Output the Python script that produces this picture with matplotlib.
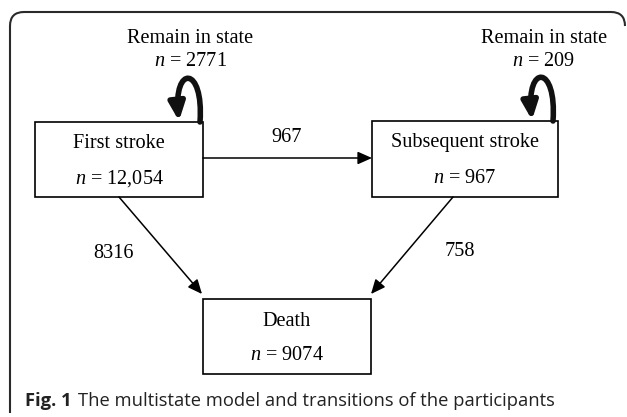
import matplotlib
matplotlib.use("Agg")
import matplotlib.pyplot as plt
from matplotlib.patches import Rectangle, FancyArrowPatch, PathPatch
from matplotlib.path import Path

plt.rcParams["mathtext.fontset"] = "custom"
plt.rcParams["mathtext.it"] = "Liberation Serif:italic"
plt.rcParams["mathtext.rm"] = "Liberation Serif"

# states and counts
states = ["First stroke", "Subsequent stroke", "Death"]
state_n = ["12,054", "967", "9074"]
remain_n = ["2771", "209"]
# transitions: first->subsequent, first->death, subsequent->death
trans_n = ["967", "8316", "758"]

# box geometry in pixels (x0, y0, x1, y1)
boxes = [(35, 122, 203, 197), (372, 121, 558, 197), (203, 299, 371, 374)]

fig = plt.figure(figsize=(6.27, 4.17), dpi=100)
ax = fig.add_axes([0, 0, 1, 1])
ax.set_xlim(0, 627)
ax.set_ylim(417, 0)
ax.axis("off")

serif = "Liberation Serif"
fs = 14.6

# outer rounded frame (open at bottom)
r = 14
frame = Path([(10, 413), (10, 12 + r), (10, 12), (10 + r, 12),
              (625 - r, 12), (625, 12), (625, 12 + r)],
             [Path.MOVETO, Path.LINETO, Path.CURVE3, Path.CURVE3,
              Path.LINETO, Path.CURVE3, Path.CURVE3])
ax.add_patch(PathPatch(frame, fill=False, lw=1.5, ec="#2a2a2a"))

for (x0, y0, x1, y1), name, n in zip(boxes, states, state_n):
    ax.add_patch(Rectangle((x0, y0), x1 - x0, y1 - y0, fill=False, lw=1.2, ec="black"))
    cx = (x0 + x1) / 2
    ax.text(cx, y0 + 22, name, ha="center", va="center", fontsize=fs, family=serif)
    ax.text(cx, y0 + 57, r"$n$ = " + n, ha="center", va="center", fontsize=fs, family=serif)

# self loops
loops = [(200, 179, 122), (553, 532, 121)]
label_x = [190, 544]
for (xs, xe, yb), lx, n in zip(loops, label_x, remain_n):
    p = Path([(xs, yb), (xs + 4, yb - 57), (xe - 6, yb - 57), (xe, yb - 1)],
             [Path.MOVETO, Path.CURVE4, Path.CURVE4, Path.CURVE4])
    ax.add_patch(FancyArrowPatch(path=p, arrowstyle="-|>,head_length=4.3,head_width=1.9",
                                 lw=4, color="#111111", mutation_scale=2.5))
    ax.text(lx, 38, "Remain in state", ha="center", va="center", fontsize=fs, family=serif)
    ax.text(lx, 61, r"$n$ = " + n, ha="center", va="center", fontsize=fs, family=serif)

# transition arrows
arrows = [((203, 158), (372, 158)), ((119, 197), (202, 294)), ((453, 197), (371, 294))]
labels_xy = [(287, 138), (113, 253), (460, 252)]
for (a, b), (lx, ly), n in zip(arrows, labels_xy, trans_n):
    ax.add_patch(FancyArrowPatch(a, b, arrowstyle="-|>,head_length=5.4,head_width=2.4",
                                 lw=1.1, color="black", mutation_scale=1.6,
                                 shrinkA=0, shrinkB=0))
    ax.text(lx, ly, n, ha="center", va="center", fontsize=fs, family=serif)

ax.text(25, 401, "Fig. 1", ha="left", va="center", fontsize=13.2, family="Open Sans",
        fontweight="bold", color="#222222")
ax.text(78, 401, "The multistate model and transitions of the participants",
        ha="left", va="center", fontsize=13.2, family="Open Sans", color="#222222")

fig.savefig("out.png", dpi=100)
